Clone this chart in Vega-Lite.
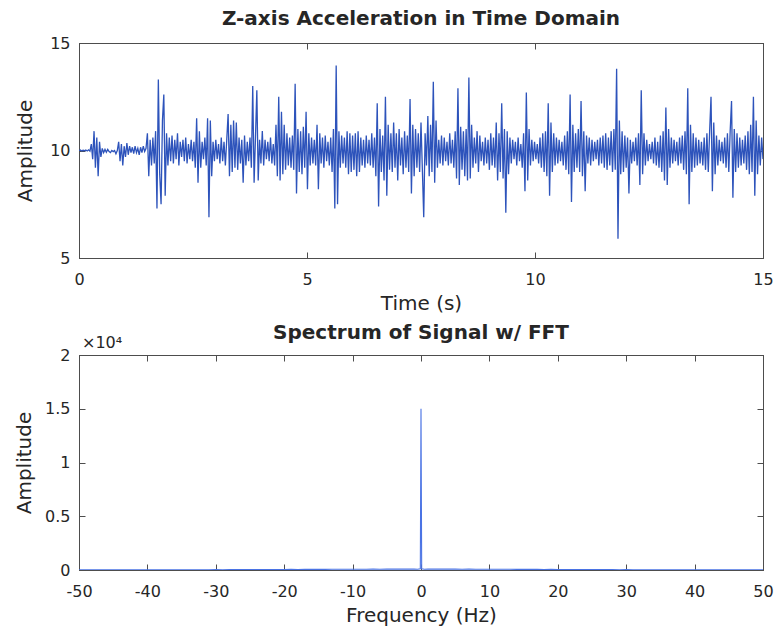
{
  "$schema": "https://vega.github.io/schema/vega-lite/v6.json",
  "background": "white",
  "padding": {"left": 14, "top": 8, "right": 6, "bottom": 0},
  "spacing": 8,
  "datasets": {
    "accel": [
      {"t":0,"a":10.0},{"t":0.03,"a":10.02},{"t":0.06,"a":9.98},{"t":0.09,"a":10.01},{"t":0.12,"a":9.99},{"t":0.15,"a":10.02},{"t":0.18,"a":9.98},{"t":0.21,"a":10.03},{"t":0.24,"a":9.97},
      {"t":0.27,"a":10.3},{"t":0.3,"a":9.6},{"t":0.33,"a":10.9},{"t":0.36,"a":9.2},{"t":0.39,"a":10.6},{"t":0.42,"a":8.8},{"t":0.45,"a":10.4},{"t":0.48,"a":9.7},
      {"t":0.51,"a":10.1},{"t":0.54,"a":9.9},{"t":0.57,"a":10.05},{"t":0.6,"a":9.92},{"t":0.63,"a":10.05},{"t":0.66,"a":9.95},{"t":0.69,"a":9.9},{"t":0.72,"a":10.0},{"t":0.75,"a":9.95},{"t":0.78,"a":10.0},{"t":0.81,"a":9.85},{"t":0.84,"a":10.0},
      {"t":0.87,"a":10.4},{"t":0.9,"a":9.5},{"t":0.93,"a":10.3},{"t":0.96,"a":9.3},{"t":0.99,"a":10.2},{"t":1.02,"a":9.7},{"t":1.05,"a":10.35},{"t":1.08,"a":9.8},{"t":1.11,"a":10.2},{"t":1.14,"a":9.9},
      {"t":1.17,"a":10.15},{"t":1.2,"a":9.85},{"t":1.23,"a":10.2},{"t":1.26,"a":9.9},{"t":1.29,"a":10.1},{"t":1.32,"a":9.8},{"t":1.35,"a":10.15},{"t":1.38,"a":9.9},{"t":1.41,"a":10.2},{"t":1.44,"a":9.95},{"t":1.47,"a":10.1},
      {"t":1.5,"a":10.8},{"t":1.53,"a":8.8},{"t":1.56,"a":10.5},{"t":1.59,"a":9.3},{"t":1.62,"a":10.6},{"t":1.65,"a":9.4},
      {"t":1.68,"a":10.9},{"t":1.71,"a":7.3},{"t":1.74,"a":13.3},{"t":1.77,"a":8.9},{"t":1.8,"a":7.5},{"t":1.83,"a":11.4},{"t":1.86,"a":12.6},{"t":1.89,"a":7.9},{"t":1.92,"a":10.8},
      {"t":1.95,"a":9.3},{"t":1.98,"a":10.6},{"t":2.01,"a":9.5},{"t":2.04,"a":10.7},{"t":2.07,"a":9.4},{"t":2.1,"a":10.5},{"t":2.13,"a":9.6},{"t":2.16,"a":10.8},{"t":2.19,"a":9.3},{"t":2.22,"a":10.4},{"t":2.25,"a":9.7},{"t":2.28,"a":10.5},{"t":2.31,"a":9.5},{"t":2.34,"a":10.6},{"t":2.37,"a":9.4},{"t":2.4,"a":10.3},{"t":2.43,"a":9.6},{"t":2.46,"a":10.5},{"t":2.49,"a":9.5},{"t":2.52,"a":10.4},{"t":2.55,"a":9.2},
      {"t":2.58,"a":11.5},{"t":2.61,"a":8.5},{"t":2.64,"a":10.9},{"t":2.67,"a":9.2},{"t":2.7,"a":10.4},{"t":2.73,"a":9.6},{"t":2.76,"a":10.6},{"t":2.79,"a":9.3},
      {"t":2.82,"a":11.5},{"t":2.85,"a":6.9},{"t":2.88,"a":11.4},{"t":2.91,"a":8.8},
      {"t":2.94,"a":10.4},{"t":2.97,"a":9.5},{"t":3.0,"a":10.5},{"t":3.03,"a":9.6},{"t":3.06,"a":10.3},{"t":3.09,"a":9.4},{"t":3.12,"a":10.6},{"t":3.15,"a":9.5},{"t":3.18,"a":10.4},{"t":3.21,"a":9.3},{"t":3.24,"a":10.5},
      {"t":3.27,"a":11.7},{"t":3.3,"a":8.8},{"t":3.33,"a":11.2},{"t":3.36,"a":9.0},{"t":3.39,"a":11.4},{"t":3.42,"a":9.2},
      {"t":3.45,"a":11.3},{"t":3.48,"a":9.1},{"t":3.51,"a":10.6},{"t":3.54,"a":9.4},{"t":3.57,"a":10.5},{"t":3.6,"a":8.5},{"t":3.63,"a":10.7},{"t":3.66,"a":9.3},{"t":3.69,"a":10.4},{"t":3.72,"a":9.5},{"t":3.75,"a":10.6},
      {"t":3.78,"a":9.2},{"t":3.81,"a":13.0},{"t":3.84,"a":8.5},{"t":3.87,"a":10.6},{"t":3.9,"a":12.8},{"t":3.93,"a":8.6},{"t":3.96,"a":10.5},
      {"t":3.99,"a":9.4},{"t":4.02,"a":10.9},{"t":4.05,"a":9.3},{"t":4.08,"a":10.5},{"t":4.11,"a":9.6},{"t":4.14,"a":10.4},{"t":4.17,"a":9.5},{"t":4.2,"a":10.6},{"t":4.23,"a":9.4},{"t":4.26,"a":10.3},{"t":4.29,"a":9.3},
      {"t":4.32,"a":11.2},{"t":4.35,"a":8.8},{"t":4.38,"a":12.5},{"t":4.41,"a":8.6},{"t":4.44,"a":11.8},{"t":4.47,"a":8.9},{"t":4.5,"a":11.2},{"t":4.53,"a":9.1},{"t":4.56,"a":10.8},
      {"t":4.59,"a":9.3},{"t":4.62,"a":10.6},{"t":4.65,"a":9.2},{"t":4.68,"a":10.7},{"t":4.71,"a":9.1},
      {"t":4.74,"a":13.1},{"t":4.77,"a":8.0},{"t":4.8,"a":11.0},{"t":4.83,"a":9.0},
      {"t":4.86,"a":10.9},{"t":4.89,"a":8.9},{"t":4.92,"a":11.1},{"t":4.95,"a":9.2},{"t":4.98,"a":11.8},{"t":5.01,"a":8.2},{"t":5.04,"a":10.8},{"t":5.07,"a":9.3},{"t":5.1,"a":10.6},{"t":5.13,"a":9.4},{"t":5.16,"a":10.5},
      {"t":5.19,"a":9.3},{"t":5.22,"a":11.2},{"t":5.25,"a":8.2},{"t":5.28,"a":10.8},{"t":5.31,"a":9.4},{"t":5.34,"a":10.6},{"t":5.37,"a":9.2},{"t":5.4,"a":10.7},{"t":5.43,"a":9.5},{"t":5.46,"a":10.4},{"t":5.49,"a":9.3},{"t":5.52,"a":10.6},
      {"t":5.55,"a":9.0},{"t":5.58,"a":11.0},{"t":5.61,"a":7.3},{"t":5.64,"a":13.95},{"t":5.67,"a":7.5},{"t":5.7,"a":10.9},
      {"t":5.73,"a":9.2},{"t":5.76,"a":10.7},{"t":5.79,"a":9.4},{"t":5.82,"a":10.6},{"t":5.85,"a":9.2},{"t":5.88,"a":10.9},{"t":5.91,"a":8.9},{"t":5.94,"a":10.8},{"t":5.97,"a":9.0},{"t":6.0,"a":10.7},{"t":6.03,"a":9.1},{"t":6.06,"a":10.8},{"t":6.09,"a":8.8},{"t":6.12,"a":10.9},{"t":6.15,"a":9.0},{"t":6.18,"a":10.6},{"t":6.21,"a":9.3},{"t":6.24,"a":10.5},{"t":6.27,"a":9.2},{"t":6.3,"a":10.7},{"t":6.33,"a":9.4},
      {"t":6.36,"a":10.5},{"t":6.39,"a":9.3},{"t":6.42,"a":10.8},{"t":6.45,"a":9.2},{"t":6.48,"a":10.6},
      {"t":6.51,"a":8.8},{"t":6.54,"a":12.2},{"t":6.57,"a":7.4},{"t":6.6,"a":11.0},{"t":6.63,"a":9.0},{"t":6.66,"a":10.7},{"t":6.69,"a":8.6},{"t":6.72,"a":12.5},{"t":6.75,"a":7.9},{"t":6.78,"a":11.2},{"t":6.81,"a":9.1},{"t":6.84,"a":10.8},
      {"t":6.87,"a":9.0},{"t":6.9,"a":11.3},{"t":6.93,"a":9.2},{"t":6.96,"a":10.8},{"t":6.99,"a":8.6},{"t":7.02,"a":11.0},{"t":7.05,"a":9.3},{"t":7.08,"a":10.6},{"t":7.11,"a":8.9},{"t":7.14,"a":10.9},{"t":7.17,"a":9.2},{"t":7.2,"a":10.7},
      {"t":7.23,"a":9.0},{"t":7.26,"a":12.4},{"t":7.29,"a":8.0},{"t":7.32,"a":11.2},{"t":7.35,"a":8.8},
      {"t":7.38,"a":11.0},{"t":7.41,"a":9.2},{"t":7.44,"a":10.8},{"t":7.47,"a":9.0},{"t":7.5,"a":11.3},{"t":7.53,"a":9.1},
      {"t":7.56,"a":6.9},{"t":7.59,"a":10.8},{"t":7.62,"a":9.3},
      {"t":7.65,"a":11.6},{"t":7.68,"a":8.8},{"t":7.71,"a":11.2},{"t":7.74,"a":9.0},{"t":7.77,"a":13.2},{"t":7.8,"a":8.5},{"t":7.83,"a":11.4},{"t":7.86,"a":9.2},
      {"t":7.89,"a":10.5},{"t":7.92,"a":9.4},{"t":7.95,"a":10.7},{"t":7.98,"a":9.3},{"t":8.01,"a":10.6},{"t":8.04,"a":9.5},{"t":8.07,"a":10.4},{"t":8.1,"a":9.3},{"t":8.13,"a":10.8},{"t":8.16,"a":9.4},{"t":8.19,"a":10.5},{"t":8.22,"a":9.2},{"t":8.25,"a":10.9},
      {"t":8.28,"a":8.7},{"t":8.31,"a":12.9},{"t":8.34,"a":8.4},{"t":8.37,"a":11.1},
      {"t":8.4,"a":9.1},{"t":8.43,"a":10.9},{"t":8.46,"a":8.8},{"t":8.49,"a":11.0},
      {"t":8.52,"a":8.6},{"t":8.55,"a":13.4},{"t":8.58,"a":8.7},{"t":8.61,"a":11.2},
      {"t":8.64,"a":9.2},{"t":8.67,"a":10.6},{"t":8.7,"a":9.4},{"t":8.73,"a":10.9},{"t":8.76,"a":9.0},{"t":8.79,"a":10.7},{"t":8.82,"a":9.5},{"t":8.85,"a":10.4},{"t":8.88,"a":9.3},{"t":8.91,"a":10.6},{"t":8.94,"a":9.4},{"t":8.97,"a":10.5},{"t":9.0,"a":9.1},{"t":9.03,"a":10.8},{"t":9.06,"a":9.3},{"t":9.09,"a":10.6},{"t":9.12,"a":9.2},
      {"t":9.15,"a":11.3},{"t":9.18,"a":8.6},{"t":9.21,"a":10.8},{"t":9.24,"a":9.0},{"t":9.27,"a":12.2},{"t":9.3,"a":8.7},{"t":9.33,"a":11.0},{"t":9.36,"a":7.1},{"t":9.39,"a":10.9},{"t":9.42,"a":8.9},{"t":9.45,"a":10.6},
      {"t":9.48,"a":9.4},{"t":9.51,"a":10.5},{"t":9.54,"a":9.6},{"t":9.57,"a":10.4},{"t":9.6,"a":9.3},{"t":9.63,"a":10.6},{"t":9.66,"a":9.5},{"t":9.69,"a":10.3},{"t":9.72,"a":9.2},{"t":9.75,"a":10.8},
      {"t":9.78,"a":8.1},{"t":9.81,"a":12.7},{"t":9.84,"a":8.6},{"t":9.87,"a":11.0},
      {"t":9.9,"a":9.3},{"t":9.93,"a":10.5},{"t":9.96,"a":9.5},{"t":9.99,"a":10.4},{"t":10.02,"a":9.6},{"t":10.05,"a":10.3},{"t":10.08,"a":9.4},{"t":10.11,"a":10.6},{"t":10.14,"a":9.2},{"t":10.17,"a":10.8},{"t":10.2,"a":9.0},{"t":10.23,"a":10.9},
      {"t":10.26,"a":8.8},{"t":10.29,"a":12.2},{"t":10.32,"a":7.9},{"t":10.35,"a":11.3},
      {"t":10.38,"a":9.0},{"t":10.41,"a":10.8},{"t":10.44,"a":9.3},{"t":10.47,"a":10.6},{"t":10.5,"a":9.4},{"t":10.53,"a":10.5},{"t":10.56,"a":9.5},{"t":10.59,"a":10.4},{"t":10.62,"a":9.3},{"t":10.65,"a":10.7},{"t":10.68,"a":9.1},{"t":10.71,"a":10.9},{"t":10.74,"a":8.9},
      {"t":10.77,"a":12.6},{"t":10.8,"a":7.6},{"t":10.83,"a":11.2},{"t":10.86,"a":9.0},
      {"t":10.89,"a":10.8},{"t":10.92,"a":9.2},{"t":10.95,"a":11.0},{"t":10.98,"a":9.0},{"t":11.01,"a":12.3},{"t":11.04,"a":8.8},{"t":11.07,"a":10.9},{"t":11.1,"a":8.1},{"t":11.13,"a":10.7},
      {"t":11.16,"a":9.4},{"t":11.19,"a":10.6},{"t":11.22,"a":9.3},{"t":11.25,"a":10.5},{"t":11.28,"a":9.5},{"t":11.31,"a":10.4},{"t":11.34,"a":9.6},{"t":11.37,"a":10.5},{"t":11.4,"a":9.3},{"t":11.43,"a":10.6},{"t":11.46,"a":9.4},{"t":11.49,"a":10.7},{"t":11.52,"a":9.2},{"t":11.55,"a":10.8},{"t":11.58,"a":9.1},{"t":11.61,"a":10.6},{"t":11.64,"a":9.3},{"t":11.67,"a":10.9},{"t":11.7,"a":9.0},{"t":11.73,"a":11.0},{"t":11.76,"a":9.1},
      {"t":11.79,"a":13.8},{"t":11.82,"a":5.9},{"t":11.85,"a":11.4},{"t":11.88,"a":8.9},
      {"t":11.91,"a":10.9},{"t":11.94,"a":9.0},{"t":11.97,"a":10.7},{"t":12.0,"a":9.2},{"t":12.03,"a":10.6},{"t":12.06,"a":8.0},{"t":12.09,"a":10.5},{"t":12.12,"a":9.4},{"t":12.15,"a":10.4},{"t":12.18,"a":9.5},{"t":12.21,"a":10.6},{"t":12.24,"a":9.3},{"t":12.27,"a":10.8},
      {"t":12.3,"a":8.4},{"t":12.33,"a":12.8},{"t":12.36,"a":8.9},{"t":12.39,"a":10.8},
      {"t":12.42,"a":9.3},{"t":12.45,"a":10.5},{"t":12.48,"a":9.5},{"t":12.51,"a":10.3},{"t":12.54,"a":9.6},{"t":12.57,"a":10.4},{"t":12.6,"a":9.4},{"t":12.63,"a":10.6},{"t":12.66,"a":9.3},{"t":12.69,"a":10.4},{"t":12.72,"a":9.2},{"t":12.75,"a":10.7},{"t":12.78,"a":9.0},{"t":12.81,"a":10.9},
      {"t":12.84,"a":8.6},{"t":12.87,"a":12.0},{"t":12.9,"a":8.4},{"t":12.93,"a":11.0},
      {"t":12.96,"a":9.2},{"t":12.99,"a":10.6},{"t":13.02,"a":9.4},{"t":13.05,"a":10.5},{"t":13.08,"a":9.5},{"t":13.11,"a":10.4},{"t":13.14,"a":9.3},{"t":13.17,"a":10.6},{"t":13.2,"a":9.4},{"t":13.23,"a":10.7},{"t":13.26,"a":9.1},{"t":13.29,"a":10.9},{"t":13.32,"a":8.9},
      {"t":13.35,"a":12.9},{"t":13.38,"a":7.5},{"t":13.41,"a":11.2},{"t":13.44,"a":9.0},
      {"t":13.47,"a":10.8},{"t":13.5,"a":9.2},{"t":13.53,"a":10.6},{"t":13.56,"a":9.3},{"t":13.59,"a":10.5},{"t":13.62,"a":9.4},{"t":13.65,"a":10.4},{"t":13.68,"a":9.3},{"t":13.71,"a":10.6},{"t":13.74,"a":9.1},{"t":13.77,"a":10.8},{"t":13.8,"a":9.0},{"t":13.83,"a":10.9},
      {"t":13.86,"a":12.5},{"t":13.89,"a":8.1},{"t":13.92,"a":11.3},{"t":13.95,"a":8.9},
      {"t":13.98,"a":10.7},{"t":14.01,"a":9.3},{"t":14.04,"a":10.5},{"t":14.07,"a":9.5},{"t":14.1,"a":10.4},{"t":14.13,"a":9.4},{"t":14.16,"a":10.6},{"t":14.19,"a":9.2},{"t":14.22,"a":10.8},{"t":14.25,"a":9.0},{"t":14.28,"a":10.9},
      {"t":14.31,"a":12.3},{"t":14.34,"a":7.8},{"t":14.37,"a":11.0},{"t":14.4,"a":9.0},
      {"t":14.43,"a":10.8},{"t":14.46,"a":9.2},{"t":14.49,"a":10.6},{"t":14.52,"a":9.3},{"t":14.55,"a":10.5},{"t":14.58,"a":9.4},{"t":14.61,"a":10.7},{"t":14.64,"a":9.1},{"t":14.67,"a":10.9},{"t":14.7,"a":8.9},{"t":14.73,"a":11.2},{"t":14.76,"a":9.0},
      {"t":14.79,"a":12.5},{"t":14.82,"a":7.9},{"t":14.85,"a":11.4},{"t":14.88,"a":8.9},
      {"t":14.91,"a":10.7},{"t":14.94,"a":9.3},{"t":14.97,"a":10.6},{"t":15.0,"a":9.6}
    ],
    "spectrum": [
      {"f":-50,"amp":12},{"f":-49,"amp":14},{"f":-48,"amp":11},{"f":-47,"amp":15},{"f":-46,"amp":13},{"f":-45,"amp":16},{"f":-44,"amp":14},{"f":-43,"amp":18},{"f":-42,"amp":15},{"f":-41,"amp":17},
      {"f":-40,"amp":20},{"f":-39,"amp":18},{"f":-38,"amp":22},{"f":-37,"amp":19},{"f":-36,"amp":24},{"f":-35,"amp":21},{"f":-34,"amp":26},{"f":-33,"amp":23},{"f":-32,"amp":28},{"f":-31,"amp":25},
      {"f":-30,"amp":32},{"f":-29,"amp":28},{"f":-28,"amp":35},{"f":-27,"amp":31},{"f":-26,"amp":38},{"f":-25,"amp":42},{"f":-24,"amp":36},{"f":-23,"amp":45},{"f":-22,"amp":40},{"f":-21,"amp":52},
      {"f":-20,"amp":48},{"f":-19,"amp":58},{"f":-18,"amp":50},{"f":-17,"amp":62},{"f":-16,"amp":55},{"f":-15,"amp":66},{"f":-14,"amp":60},{"f":-13,"amp":70},{"f":-12,"amp":64},{"f":-11,"amp":72},
      {"f":-10,"amp":68},{"f":-9,"amp":75},{"f":-8,"amp":66},{"f":-7,"amp":80},{"f":-6,"amp":72},{"f":-5,"amp":85},{"f":-4,"amp":78},{"f":-3,"amp":90},{"f":-2,"amp":82},{"f":-1,"amp":95},
      {"f":-0.5,"amp":70},{"f":-0.1,"amp":110},{"f":0,"amp":15000},{"f":0.1,"amp":110},{"f":0.5,"amp":70},
      {"f":1,"amp":95},{"f":2,"amp":82},{"f":3,"amp":90},{"f":4,"amp":78},{"f":5,"amp":85},{"f":6,"amp":72},{"f":7,"amp":80},{"f":8,"amp":66},{"f":9,"amp":75},{"f":10,"amp":68},
      {"f":11,"amp":72},{"f":12,"amp":64},{"f":13,"amp":70},{"f":14,"amp":60},{"f":15,"amp":66},{"f":16,"amp":55},{"f":17,"amp":62},{"f":18,"amp":50},{"f":19,"amp":58},{"f":20,"amp":48},
      {"f":21,"amp":52},{"f":22,"amp":40},{"f":23,"amp":45},{"f":24,"amp":36},{"f":25,"amp":42},{"f":26,"amp":38},{"f":27,"amp":31},{"f":28,"amp":35},{"f":29,"amp":28},{"f":30,"amp":32},
      {"f":31,"amp":25},{"f":32,"amp":28},{"f":33,"amp":23},{"f":34,"amp":26},{"f":35,"amp":21},{"f":36,"amp":24},{"f":37,"amp":19},{"f":38,"amp":22},{"f":39,"amp":18},{"f":40,"amp":20},
      {"f":41,"amp":17},{"f":42,"amp":15},{"f":43,"amp":18},{"f":44,"amp":14},{"f":45,"amp":16},{"f":46,"amp":13},{"f":47,"amp":15},{"f":48,"amp":11},{"f":49,"amp":14},{"f":50,"amp":12}
    ]
  },
  "vconcat": [
    {
      "title": {"text": "Z-axis Acceleration in Time Domain", "offset": -10, "baseline": "alphabetic"},
      "width": 684,
      "height": 215,
      "data": {"name": "accel"},
      "layer": [
        {
          "mark": {"type": "line", "color": "#2d53bb", "strokeWidth": 1.3, "clip": true},
          "encoding": {
            "x": {"field": "t", "type": "quantitative", "scale": {"domain": [0, 15], "nice": false, "zero": false},
                  "axis": {"orient": "bottom", "title": "Time (s)", "values": [0, 5, 10, 15]}},
            "y": {"field": "a", "type": "quantitative", "scale": {"domain": [5, 15], "nice": false, "zero": false},
                  "axis": {"orient": "left", "title": "Amplitude", "values": [5, 10, 15], "titlePadding": 14}}
          }
        },
        {
          "mark": {"type": "line", "opacity": 0},
          "encoding": {
            "x": {"field": "t", "type": "quantitative", "axis": {"orient": "top", "values": [0, 5, 10, 15], "labels": false, "title": null, "minExtent": 0}},
            "y": {"field": "a", "type": "quantitative", "axis": {"orient": "right", "values": [5, 10, 15], "labels": false, "title": null, "minExtent": 0}}
          }
        }
      ],
      "resolve": {"axis": {"x": "independent", "y": "independent"}}
    },
    {
      "title": {"text": "Spectrum of Signal w/ FFT", "offset": -24, "baseline": "alphabetic"},
      "width": 684,
      "height": 215,
      "layer": [
        {
          "data": {"name": "spectrum"},
          "mark": {"type": "line", "color": "#4a73e4", "strokeWidth": 1.1, "clip": true},
          "encoding": {
            "x": {"field": "f", "type": "quantitative", "scale": {"domain": [-50, 50], "nice": false, "zero": false},
                  "axis": {"orient": "bottom", "title": "Frequency (Hz)", "values": [-50, -40, -30, -20, -10, 0, 10, 20, 30, 40, 50],
                           "labelExpr": "(datum.value < 0 ? '-' : '') + abs(datum.value)"}},
            "y": {"field": "amp", "type": "quantitative", "scale": {"domain": [0, 20000], "nice": false},
                  "axis": {"orient": "left", "title": "Amplitude", "values": [0, 5000, 10000, 15000, 20000], "labelExpr": "format(datum.value / 10000, '~g')"}}
          }
        },
        {
          "data": {"values": [{}]},
          "mark": {"type": "text", "text": "×10⁴", "align": "left", "baseline": "alphabetic", "dx": 3, "dy": -7, "fontSize": 16, "color": "#262626", "font": "DejaVu Sans"},
          "encoding": {
            "x": {"datum": -50, "type": "quantitative", "axis": {"orient": "top", "values": [-50, -40, -30, -20, -10, 0, 10, 20, 30, 40, 50], "labels": false, "title": null, "minExtent": 0}},
            "y": {"datum": 20000, "type": "quantitative", "axis": {"orient": "right", "values": [0, 5000, 10000, 15000, 20000], "labels": false, "title": null, "minExtent": 0}}
          }
        }
      ],
      "resolve": {"axis": {"x": "independent", "y": "independent"}}
    }
  ],
  "config": {
    "font": "DejaVu Sans",
    "view": {"stroke": "#4d4d4d", "strokeWidth": 1},
    "axis": {
      "grid": false,
      "domainColor": "#4d4d4d",
      "domainWidth": 1,
      "tickColor": "#4d4d4d",
      "tickSize": -6,
      "tickWidth": 1,
      "labelFont": "DejaVu Sans",
      "labelFontSize": 16,
      "labelColor": "#262626",
      "labelFlush": false,
      "titleFont": "DejaVu Sans",
      "titleFontSize": 20,
      "titleFontWeight": "normal",
      "titleColor": "#262626"
    },
    "axisX": {"labelPadding": 19, "titlePadding": 6},
    "axisY": {"labelPadding": 15, "titlePadding": 10},
    "title": {"font": "DejaVu Sans", "fontSize": 20, "fontWeight": "bold", "color": "#262626", "anchor": "middle"}
  }
}
